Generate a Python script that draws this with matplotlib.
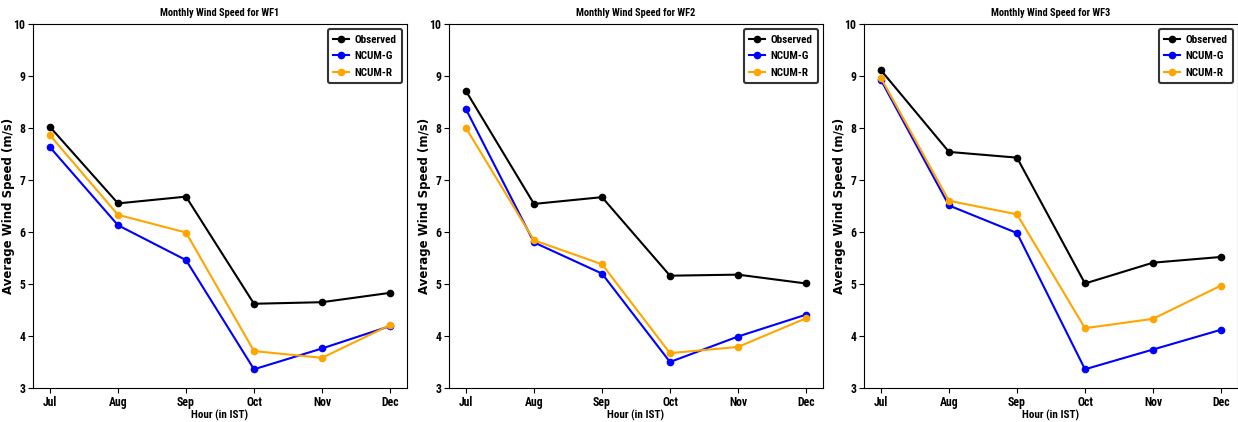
import matplotlib
matplotlib.use("Agg")
import matplotlib.pyplot as plt
from matplotlib.font_manager import FontProperties

months = ["Jul", "Aug", "Sep", "Oct", "Nov", "Dec"]
farms = ["WF1", "WF2", "WF3"]

# Observed / NCUM-G / NCUM-R monthly means per wind farm
observed = {
    "WF1": [8.02, 6.55, 6.68, 4.62, 4.65, 4.83],
    "WF2": [8.71, 6.54, 6.67, 5.16, 5.18, 5.01],
    "WF3": [9.11, 7.54, 7.43, 5.01, 5.41, 5.52],
}
ncum_g = {
    "WF1": [7.63, 6.13, 5.46, 3.36, 3.76, 4.19],
    "WF2": [8.36, 5.80, 5.20, 3.50, 3.99, 4.41],
    "WF3": [8.92, 6.51, 5.98, 3.36, 3.74, 4.12],
}
ncum_r = {
    "WF1": [7.86, 6.33, 5.99, 3.71, 3.58, 4.21],
    "WF2": [8.00, 5.84, 5.38, 3.67, 3.79, 4.34],
    "WF3": [8.96, 6.60, 6.34, 4.15, 4.33, 4.97],
}


def cond(size):
    return FontProperties(family="Roboto Condensed", weight="bold", size=size)


fig = plt.figure(figsize=(12.38, 4.22), dpi=100)
lefts = [33, 449, 864]
width = 374

for i, farm in enumerate(farms):
    ax = fig.add_axes([lefts[i] / 1238, 34 / 422, width / 1238, 364 / 422])
    x = range(len(months))
    ax.plot(x, observed[farm], color="black", marker="o", markersize=4.5,
            linewidth=1.5, label="Observed")
    ax.plot(x, ncum_g[farm], color="blue", marker="o", markersize=4.5,
            linewidth=1.5, label="NCUM-G")
    ax.plot(x, ncum_r[farm], color="orange", marker="o", markersize=4.5,
            linewidth=1.5, label="NCUM-R")

    ax.set_ylim(3, 10)
    ax.set_xlim(-0.25, 5.25)
    ax.set_xticks(list(x))
    ax.set_xticklabels(months)
    ax.tick_params(length=3.5, pad=2)
    for lab in ax.get_xticklabels() + ax.get_yticklabels():
        lab.set_fontproperties(cond(8.5))

    ax.set_title(f"Monthly Wind Speed for {farm}", fontproperties=cond(7.5), pad=6)
    ax.set_xlabel("Hour (in IST)", fontproperties=cond(8), labelpad=1)
    ax.set_ylabel("Average Wind Speed (m/s)", fontweight="bold", fontsize=8.5)
    ax.yaxis.set_label_coords(-18 / width, 0.5)

    leg = ax.legend(loc="upper right", prop=cond(8),
                    fancybox=True, framealpha=1, handlelength=1.4,
                    borderpad=0.5, labelspacing=0.6, handletextpad=0.5,
                    borderaxespad=0.45)
    leg.get_frame().set_edgecolor("#333333")
    leg.get_frame().set_linewidth(1.5)

fig.savefig("out.png", dpi=100)
